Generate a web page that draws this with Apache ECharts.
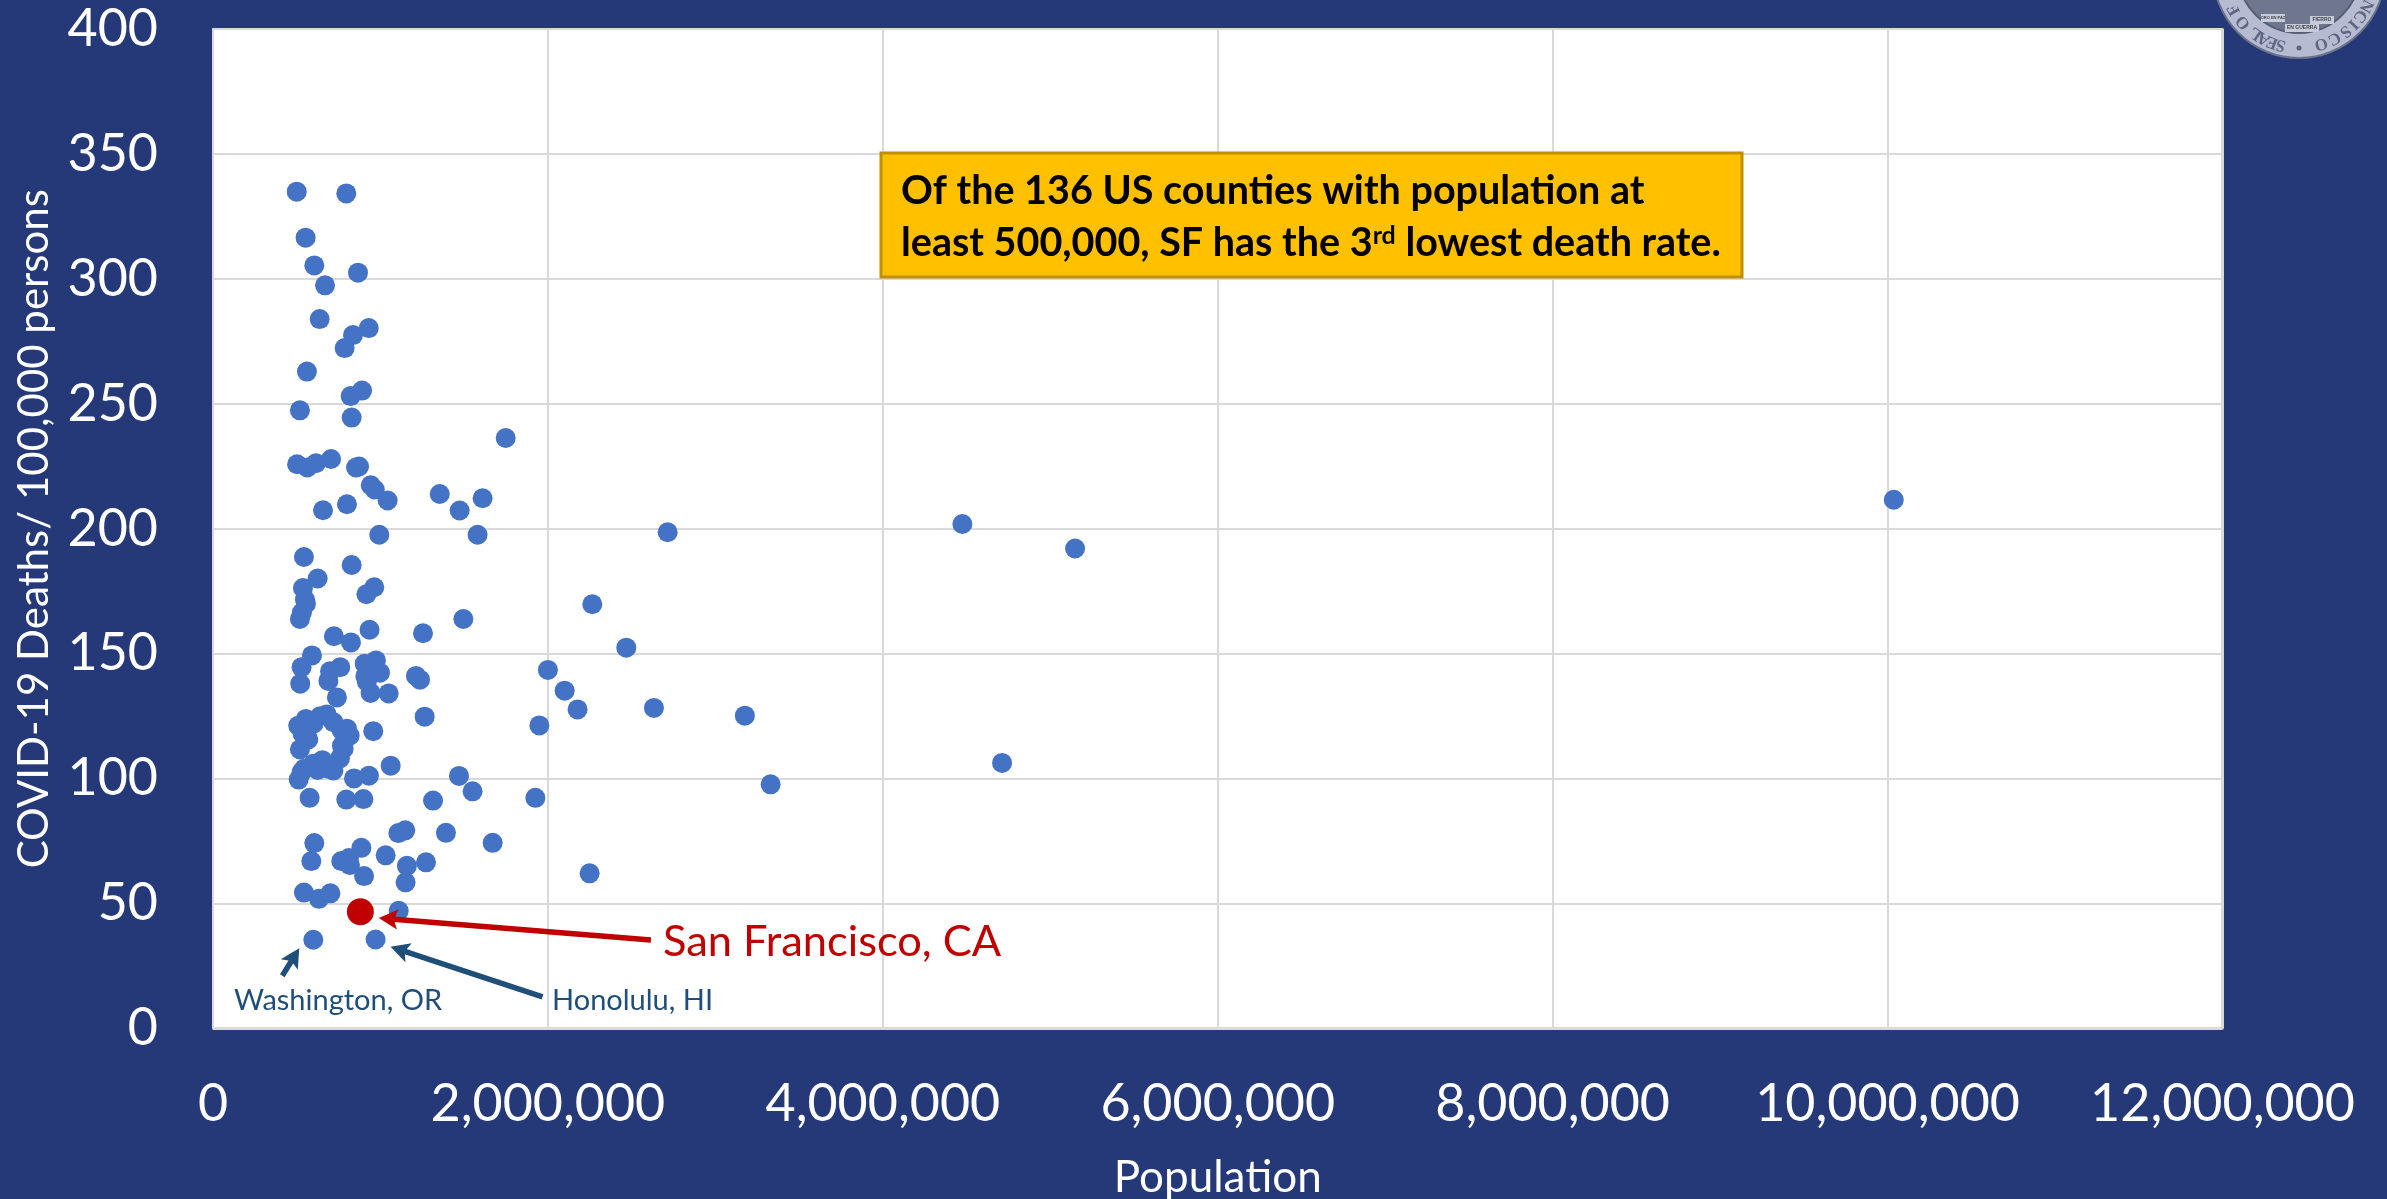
<!DOCTYPE html>
<html><head><meta charset="utf-8">
<style>html,body{margin:0;padding:0;background:#253877}#c{width:2387px;height:1199px}</style>
<script src="https://cdn.jsdelivr.net/npm/echarts@6/dist/echarts.min.js"></script>
</head><body><div id="c"></div>
<script>
const population = [500000,796000,553000,605000,866000,669000,637000,836000,930000,786000,561000,890000,822000,519000,828000,1748000,502000,563000,615000,705000,854000,872000,942000,966000,1043000,1354000,1610000,1473000,657000,800000,
993000,1580000,2715000,543000,828000,625000,963000,916000,537000,549000,531000,519000,2265000,1495000,1254000,935000,722000,824000,2468000,591000,529000,521000,760000,699000,689000,740000,906000,973000,997000,919000,941000,1049000,1212000,1236000,2000000,2100000,2177000,2633000,1949000,1264000,
679000,555000,509000,559000,719000,768000,816000,569000,519000,770000,758000,653000,599000,719000,529000,512000,957000,1061000,931000,842000,1469000,1550000,1925000,1314000,577000,796000,898000,1391000,1670000,1148000,1107000,605000,886000,587000,766000,812000,818000,1031000,902000,1158000,1272000,1150000,2249000,543000,633000,701000,1109000,599000,971000,
4475000,5148000,10037000,3176000,3330000,4712000,690000,625000,545000,640000,600000,535000,780000,800000,910000,555000];
const deathRate = [334.9,334.2,316.5,305.4,302.5,297.4,283.9,277.5,280.3,272.3,262.9,255.3,253.1,247.4,244.5,236.3,225.8,224.5,226.2,227.9,224.5,224.9,217.4,215.7,211.3,213.9,212.2,207.3,207.4,209.8,
197.6,197.6,198.6,188.7,185.5,180.1,176.6,173.8,176.3,171.7,166.5,163.9,169.8,163.9,158.2,159.6,157,154.5,152.4,149.3,144.6,138,144.6,143,139.1,132.5,146,147.3,142.4,138.8,134.3,134.1,141.1,139.6,143.5,135.2,127.7,128.3,121.3,124.8,
125.7,123.9,121.2,120.5,122.6,119.4,117.2,115.7,111.7,113.2,108.1,107.4,106,103.3,102.6,99.6,119,105.2,101.2,100.1,101.1,94.9,92.3,91.2,92.3,91.6,91.8,78.3,74.3,79.3,78.2,74.2,72.3,67,67,68.2,65.4,69.3,61,65.1,66.5,58.5,62.1,54.4,51.9,54.1,47.1,35.5,35.6,
201.9,192.1,211.6,125.2,97.7,106.3,104,103.5,104,125,122,118,112,120,141,170];
const sfPopulation = [880000];
const sfRate = [46.7];
const xTicks = {min:0,max:12000000,interval:2000000};
const yTicks = {min:0,max:400,interval:50};
const redArrow = [2615000,35.4,990000,44.2];
const honoluluArrow = [1968000,12.7,1060000,32.7];
const washingtonArrow = [414000,21.1,515000,32.1];

const chart = echarts.init(document.getElementById('c'),null,{renderer:'canvas'});
const NAVY='#253877', FONT='Lato';
const cx=2299, cy=-28, letters=[];
[['S',14],['E',21],['A',28],['L',35],['O',48],['F',60],['O',-17],['C',-28],['S',-38],['I',-46],['C',-54],['N',-63],['A',-71]].forEach(([c,p])=>{
  const a=p*Math.PI/180;
  letters.push({type:'text',x:cx-75*Math.sin(a),y:cy+75*Math.cos(a),rotation:-(Math.PI+a),z:50,
    style:{text:c,fill:'#5f6780',font:'bold 17px "Liberation Serif"',align:'center',verticalAlign:'middle'}});
});
const arrowSeries=(name,pts,color)=>({
  name,type:'custom',z:5,silent:true,clip:false,coordinateSystem:'cartesian2d',
  encode:{x:[0,2],y:[1,3]},
  data:[pts],
  renderItem:(params,api)=>{
    const a=api.coord([api.value(0),api.value(1)]), b=api.coord([api.value(2),api.value(3)]);
    const dx=b[0]-a[0], dy=b[1]-a[1], L=Math.hypot(dx,dy), ux=dx/L, uy=dy/L, nx=-uy, ny=ux;
    const head=19, half=10, notch=15;
    const base=[b[0]-ux*notch,b[1]-uy*notch];
    return {type:'group',children:[
      {type:'line',shape:{x1:a[0],y1:a[1],x2:base[0],y2:base[1]},style:{stroke:color,lineWidth:5.5,fill:null}},
      {type:'polygon',shape:{points:[b,[b[0]-ux*head+nx*half,b[1]-uy*head+ny*half],base,[b[0]-ux*head-nx*half,b[1]-uy*head-ny*half]]},style:{fill:color}}
    ]};
  }
});
const axisFont={color:'#fff',fontFamily:FONT,fontSize:52};
chart.setOption({
  animation:false,
  backgroundColor:NAVY,
  grid:{left:213,top:29,width:2009.5,height:999.5,show:true,backgroundColor:'#fff',borderColor:'#BDBDBD',borderWidth:2,containLabel:false,outerBoundsMode:'none'},
  xAxis:{type:'value',min:xTicks.min,max:xTicks.max,interval:xTicks.interval,
    name:'Population',nameLocation:'middle',nameGap:127,
    nameTextStyle:{color:'#fff',fontFamily:FONT,fontSize:44},
    axisLine:{show:false},axisTick:{show:false},
    splitLine:{show:true,lineStyle:{color:'#D9D9D9',width:2}},
    axisLabel:{...axisFont,margin:50,hideOverlap:false,showMinLabel:true,showMaxLabel:true,
      formatter:v=>v.toLocaleString('en-US')}},
  yAxis:{type:'value',min:yTicks.min,max:yTicks.max,interval:yTicks.interval,
    name:'COVID-19 Deaths/ 100,000 persons',nameLocation:'middle',nameGap:158,nameRotate:90,
    nameTextStyle:{color:'#fff',fontFamily:FONT,fontSize:42},
    axisLine:{show:false},axisTick:{show:false},
    splitLine:{show:true,lineStyle:{color:'#D9D9D9',width:2}},
    axisLabel:{...axisFont,margin:55,hideOverlap:false,showMinLabel:true,showMaxLabel:true}},
  series:[
    {name:'US counties',type:'scatter',symbol:'circle',symbolSize:20,z:3,
     itemStyle:{color:'#4472C4',opacity:1},
     data:population.map((p,i)=>[p,deathRate[i]])},
    {name:'San Francisco, CA',type:'scatter',symbol:'circle',symbolSize:27,z:4,
     itemStyle:{color:'#C00000',opacity:1},
     data:sfPopulation.map((p,i)=>[p,sfRate[i]])},
    arrowSeries('San Francisco arrow',redArrow,'#C00000'),
    arrowSeries('Honolulu arrow',honoluluArrow,'#1F4E79'),
    arrowSeries('Washington arrow',washingtonArrow,'#1F4E79')
  ],
  graphic:[
    {type:'rect',shape:{x:881,y:153,width:861,height:124},z:20,style:{fill:'#FFC000',stroke:'#BF9000',lineWidth:3}},
    {type:'text',x:901,y:191,z:21,style:{text:'Of the 136 US counties with population at',fill:'#000',font:'bold 39.5px Lato',verticalAlign:'middle'}},
    {type:'text',x:901,y:243,z:21,style:{
      text:'{m|least 500,000, SF has the 3}{s|rd}{m| lowest death rate.}',
      fill:'#000',verticalAlign:'middle',
      rich:{m:{fontFamily:FONT,fontWeight:'bold',fontSize:39.5,fill:'#000',color:'#000'},
            s:{fontFamily:FONT,fontWeight:'bold',fontSize:25,fill:'#000',color:'#000',verticalAlign:'top',lineHeight:39}}}},
    {type:'text',x:663,y:942,z:21,style:{text:'San Francisco, CA',fill:'#C00000',font:'43.4px Lato',verticalAlign:'middle'}},
    {type:'text',x:552,y:1001,z:21,style:{text:'Honolulu, HI',fill:'#1F4E79',font:'29px Lato',verticalAlign:'middle'}},
    {type:'text',x:234,y:1001,z:21,style:{text:'Washington, OR',fill:'#1F4E79',font:'29px Lato',verticalAlign:'middle'}},
    {type:'circle',shape:{cx,cy,r:86},z:40,style:{fill:'#B5BCD1',stroke:'#6b7389',lineWidth:2}},
    {type:'circle',shape:{cx,cy,r:61},z:41,style:{fill:'#6f778e',stroke:'#555d75',lineWidth:2}},
    {type:'rect',shape:{x:2261,y:14,width:24,height:8},z:42,style:{fill:'#C6CBDB'}},
    {type:'rect',shape:{x:2285,y:24,width:34,height:8},z:42,style:{fill:'#C6CBDB'}},
    {type:'rect',shape:{x:2310,y:16,width:24,height:8},z:42,style:{fill:'#C6CBDB'}},
    {type:'text',x:2273,y:18,z:43,style:{text:'ORO EN PAZ',fill:'#444',font:'bold 4px Liberation Sans',align:'center',verticalAlign:'middle'}},
    {type:'text',x:2302,y:28,z:43,style:{text:'EN GUERRA',fill:'#444',font:'bold 5px Liberation Sans',align:'center',verticalAlign:'middle'}},
    {type:'text',x:2322,y:20,z:43,style:{text:'FIERRO',fill:'#444',font:'bold 5px Liberation Sans',align:'center',verticalAlign:'middle'}},
    {type:'circle',shape:{cx:2299,cy:48,r:2.5},z:42,style:{fill:'#5f6780'}},
    ...letters
  ]
});
</script></body></html>
